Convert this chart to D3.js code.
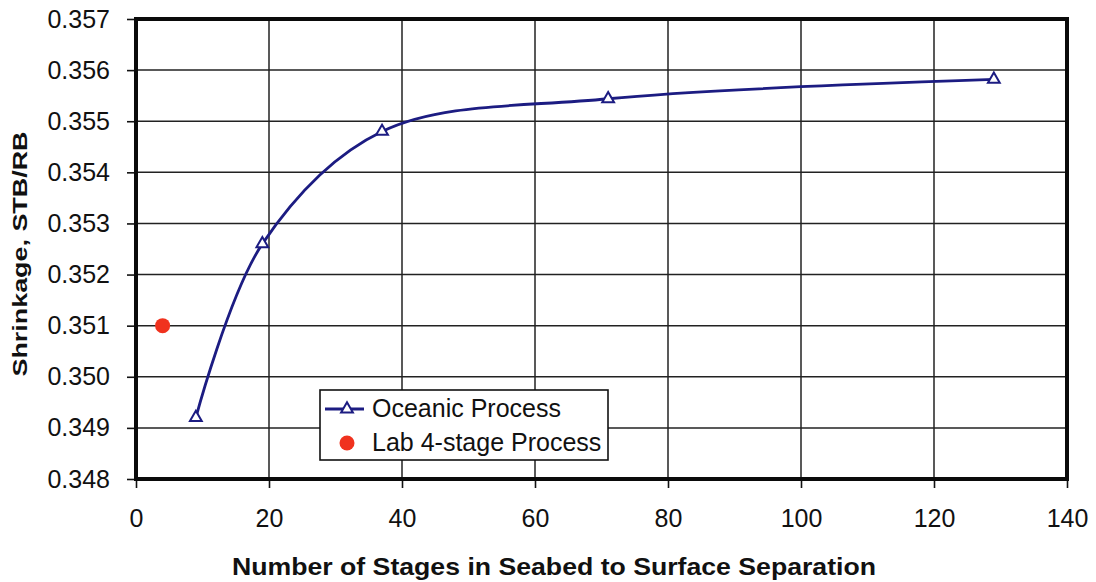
<!DOCTYPE html>
<html>
<head>
<meta charset="utf-8">
<script src="https://cdn.jsdelivr.net/npm/d3@7"></script>
<style>
  html, body { margin: 0; padding: 0; background: #fff; }
  svg { display: block; font-family: "Liberation Sans", Arial, sans-serif; }
</style>
</head>
<body>
<svg id="chart" width="1096" height="582"></svg>
<script>
// Oceanic process: stages vs. shrinkage
const oceanicStages = [9, 19, 37, 71, 129];
const oceanicShrinkage = [0.3492, 0.3526, 0.3548, 0.35544, 0.35582];

// Lab 4-stage process
const labStages = [4];
const labShrinkage = [0.351];

const xTicks = [0, 20, 40, 60, 80, 100, 120, 140];
const yTicks = [0.348, 0.349, 0.350, 0.351, 0.352, 0.353, 0.354, 0.355, 0.356, 0.357];

const seriesNames = ["Oceanic Process", "Lab 4-stage Process"];
const xTitle = "Number of Stages in Seabed to Surface Separation";
const yTitle = "Shrinkage, STB/RB";

const svg = d3.select("#chart");
const plotL = 136, plotR = 1067, plotT = 19, plotB = 479;

const x = d3.scaleLinear().domain([0, 140]).range([plotL, plotR]);
const y = d3.scaleLinear().domain([0.348, 0.357]).range([plotB, plotT]);

const navy = "#1c1c82";
const red = "#f0321e";

// grid
const g = svg.append("g");
g.selectAll(".hgrid").data(yTicks).join("line")
  .attr("x1", plotL).attr("x2", plotR)
  .attr("y1", d => y(d)).attr("y2", d => y(d))
  .attr("stroke", "#222").attr("stroke-width", 1.5);
g.selectAll(".vgrid").data(xTicks).join("line")
  .attr("y1", plotT).attr("y2", plotB)
  .attr("x1", d => x(d)).attr("x2", d => x(d))
  .attr("stroke", "#222").attr("stroke-width", 1.5);

// axes
const xAxis = d3.axisBottom(x).tickValues(xTicks).tickSize(9).tickPadding(21).tickFormat(d3.format("d"));
const yAxis = d3.axisLeft(y).tickValues(yTicks).tickSize(9).tickPadding(17).tickFormat(d3.format(".3f"));

const xa = svg.append("g").attr("transform", `translate(0,${plotB})`).call(xAxis);
const ya = svg.append("g").attr("transform", `translate(${plotL},0)`).call(yAxis);
[xa, ya].forEach(a => {
  a.select(".domain").remove();
  a.selectAll(".tick line").attr("stroke", "#111").attr("stroke-width", 1.6);
  a.selectAll(".tick text").attr("fill", "#111").style("font-size", "25px");
});

// plot frame
svg.append("rect")
  .attr("x", plotL).attr("y", plotT)
  .attr("width", plotR - plotL).attr("height", plotB - plotT)
  .attr("fill", "none").attr("stroke", "#0a0a0a").attr("stroke-width", 4);

// oceanic curve
const pts = oceanicStages.map((s, i) => [s, oceanicShrinkage[i]]);
const line = d3.line().x(d => x(d[0])).y(d => y(d[1])).curve(d3.curveCatmullRom.alpha(0.5));
svg.append("path").datum(pts)
  .attr("d", line)
  .attr("fill", "none").attr("stroke", navy).attr("stroke-width", 2.8);

const tri = d3.symbol().type(d3.symbolTriangle).size(60);
svg.selectAll(".tri").data(pts).join("path")
  .attr("d", tri)
  .attr("transform", d => `translate(${x(d[0])},${y(d[1])})`)
  .attr("fill", "#fff").attr("stroke", navy).attr("stroke-width", 2);

// lab point
svg.selectAll(".lab").data(labStages.map((s, i) => [s, labShrinkage[i]])).join("circle")
  .attr("cx", d => x(d[0])).attr("cy", d => y(d[1]))
  .attr("r", 7.5).attr("fill", red);

// legend
const lg = svg.append("g").attr("transform", "translate(320,390)");
lg.append("rect").attr("width", 288).attr("height", 70)
  .attr("fill", "#fff").attr("stroke", "#111").attr("stroke-width", 1.6);
lg.append("line").attr("x1", 5).attr("x2", 44).attr("y1", 19).attr("y2", 19)
  .attr("stroke", navy).attr("stroke-width", 2.8);
lg.append("path").attr("d", tri).attr("transform", "translate(27,19)")
  .attr("fill", "#fff").attr("stroke", navy).attr("stroke-width", 2);
lg.append("circle").attr("cx", 27).attr("cy", 53).attr("r", 7.5).attr("fill", red);
lg.selectAll(".lt").data(seriesNames).join("text")
  .attr("x", 52).attr("y", (d, i) => 18 + i * 34)
  .attr("dy", "0.35em")
  .style("font-size", "25px").attr("fill", "#111")
  .text(d => d);

// axis titles
svg.append("text")
  .attr("x", 554).attr("y", 575)
  .attr("text-anchor", "middle")
  .attr("textLength", 644).attr("lengthAdjust", "spacingAndGlyphs")
  .style("font-size", "24px").style("font-weight", "bold").attr("fill", "#111")
  .text(xTitle);
svg.append("text")
  .attr("transform", `translate(27,254) rotate(-90)`)
  .attr("text-anchor", "middle")
  .attr("textLength", 245).attr("lengthAdjust", "spacingAndGlyphs")
  .style("font-size", "21px").style("font-weight", "bold").attr("fill", "#111")
  .text(yTitle);
</script>
</body>
</html>
